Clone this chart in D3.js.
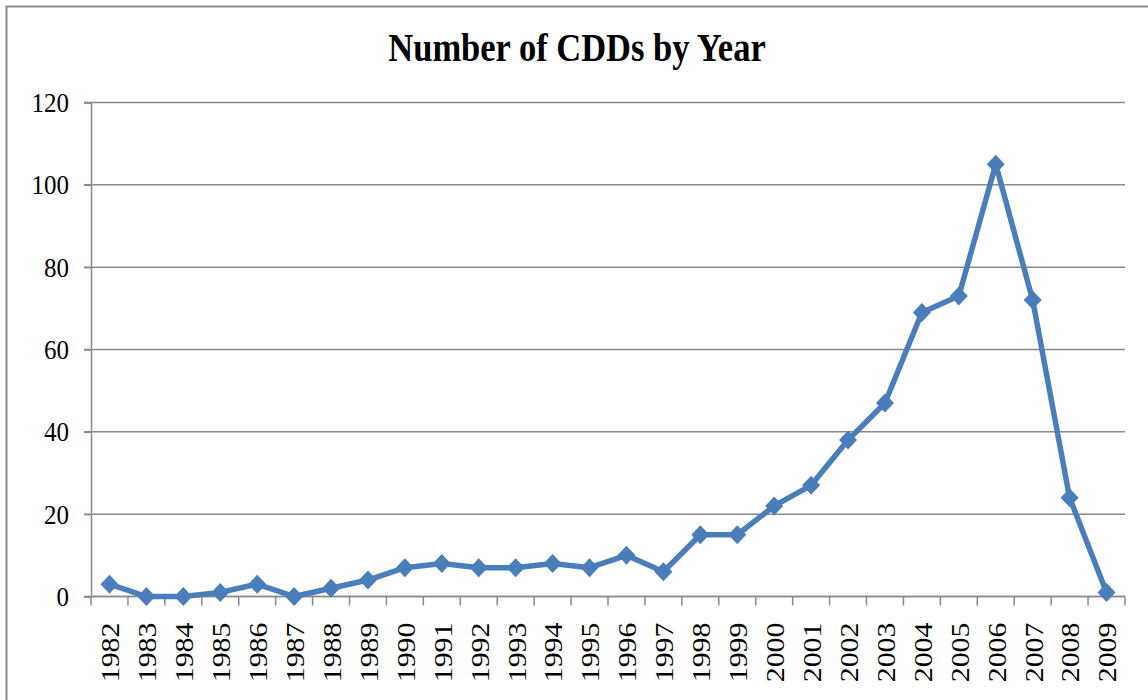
<!DOCTYPE html>
<html>
<head>
<meta charset="utf-8">
<script src="https://cdn.jsdelivr.net/npm/d3@7"></script>
<style>
  html, body { margin: 0; padding: 0; background: #ffffff; }
  svg { display: block; }
</style>
</head>
<body>
<svg id="chart" width="1148" height="700"></svg>
<script>
// Yearly counts of CDDs
const years = ["1982","1983","1984","1985","1986","1987","1988","1989","1990","1991",
               "1992","1993","1994","1995","1996","1997","1998","1999","2000","2001",
               "2002","2003","2004","2005","2006","2007","2008","2009"];
const counts = [3, 0, 0, 1, 3, 0, 2, 4, 7, 8,
                7, 7, 8, 7, 10, 6, 15, 15, 22, 27,
                38, 47, 69, 73, 105, 72, 24, 1];
const yTicks = [0, 20, 40, 60, 80, 100, 120];
const titleText = "Number of CDDs by Year";

const svg = d3.select("#chart");
const W = 1148, H = 700;
const plot = { left: 91, right: 1125, top: 102.5, bottom: 596.5 };
const serif = "'Liberation Serif', 'Times New Roman', serif";
const blue = "#4a7ebb";
const gray = "#8a8a8a";
const stretch = 1.15; // glyphs are drawn slightly taller than wide

// outer chart frame
svg.append("rect")
  .attr("x", 6.5).attr("y", 6.5)
  .attr("width", W + 10).attr("height", H + 10)
  .attr("fill", "#ffffff")
  .attr("stroke", "#8c8c8c").attr("stroke-width", 2);

// title
svg.append("text")
  .attr("transform", `translate(577,61) scale(1,${stretch + 0.02})`)
  .attr("text-anchor", "middle")
  .attr("font-family", serif)
  .attr("font-weight", "bold")
  .attr("font-size", 34.5)
  .attr("fill", "#000")
  .text(titleText);

const x = d3.scaleBand().domain(years).range([plot.left, plot.right]);
const y = d3.scaleLinear().domain([0, 120]).range([plot.bottom, plot.top]);

// horizontal gridlines
svg.append("g")
  .selectAll("line")
  .data(yTicks)
  .join("line")
  .attr("x1", plot.left - 7).attr("x2", plot.right)
  .attr("y1", d => y(d)).attr("y2", d => y(d))
  .attr("stroke", gray).attr("stroke-width", 1.5);

// y axis
const yAxis = svg.append("g")
  .attr("transform", `translate(${plot.left},0)`)
  .call(d3.axisLeft(y).tickValues(yTicks).tickSize(7).tickFormat(""));
yAxis.select(".domain").attr("stroke", gray).attr("stroke-width", 1.5);
yAxis.selectAll(".tick line").attr("stroke", gray).attr("stroke-width", 1.5);
svg.append("g")
  .selectAll("text")
  .data(yTicks)
  .join("text")
  .attr("transform", d => `translate(69,${y(d)}) scale(1,${stretch - 0.04})`)
  .attr("text-anchor", "end")
  .attr("dy", "0.34em")
  .attr("font-family", serif).attr("font-size", 25).attr("fill", "#000")
  .text(d => d);

// x axis: ticks sit on the category boundaries
const xAxisG = svg.append("g").attr("transform", `translate(0,${plot.bottom})`);
xAxisG.append("line")
  .attr("x1", plot.left).attr("x2", plot.right)
  .attr("stroke", gray).attr("stroke-width", 1.5);
const bounds = years.map(d => x(d)).concat([plot.right]);
xAxisG.selectAll("line.tk")
  .data(bounds)
  .join("line")
  .attr("class", "tk")
  .attr("x1", d => d).attr("x2", d => d)
  .attr("y1", 0).attr("y2", 9)
  .attr("stroke", gray).attr("stroke-width", 1.5);
xAxisG.selectAll("text")
  .data(years)
  .join("text")
  .attr("transform", d => `translate(${x(d) + x.bandwidth() / 2 + 1},26) rotate(-90) scale(${stretch},1)`)
  .attr("text-anchor", "end")
  .attr("dy", "0.34em")
  .attr("font-family", serif).attr("font-size", 26).attr("fill", "#000")
  .text(d => d);

// series line
const pts = years.map((yr, i) => [x(yr) + x.bandwidth() / 2, y(counts[i])]);
svg.append("path")
  .attr("d", d3.line()(pts))
  .attr("fill", "none")
  .attr("stroke", blue).attr("stroke-width", 5.5)
  .attr("stroke-linejoin", "round");

// diamond markers
svg.append("g")
  .selectAll("path")
  .data(pts)
  .join("path")
  .attr("d", d => `M${d[0]},${d[1] - 9.5}L${d[0] + 9},${d[1]}L${d[0]},${d[1] + 9.5}L${d[0] - 9},${d[1]}Z`)
  .attr("fill", blue);
</script>
</body>
</html>
